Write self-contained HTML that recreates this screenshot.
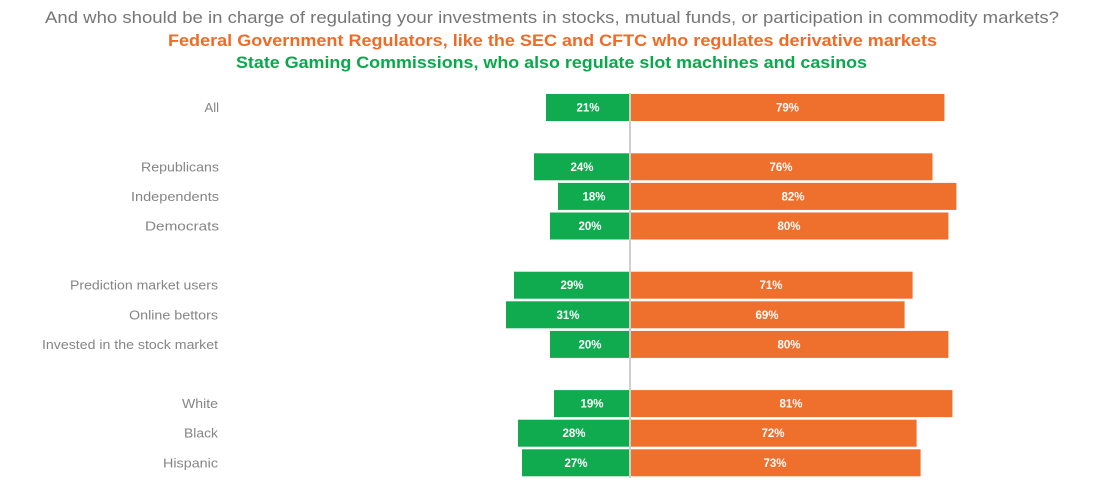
<!DOCTYPE html>
<html>
<head>
<meta charset="utf-8">
<style>
  html, body { margin: 0; padding: 0; background: #ffffff; }
  svg { display: block; }
  text { font-family: "Liberation Sans", Arial, sans-serif; }
  .lbl { fill: #858585; font-size: 13px; }
  .val { fill: #ffffff; font-size: 11.5px; font-weight: bold; }
</style>
</head>
<body>
<svg width="1104" height="493" viewBox="0 0 1104 493" xmlns="http://www.w3.org/2000/svg">
  <rect width="1104" height="493" fill="#ffffff"/>

  <!-- Titles -->
  <text x="45" y="23" font-size="17" fill="#767676" textLength="1014" lengthAdjust="spacingAndGlyphs">And who should be in charge of regulating your investments in stocks, mutual funds, or participation in commodity markets?</text>
  <text x="168" y="46" font-size="17" font-weight="bold" fill="#ee6c28" textLength="769" lengthAdjust="spacingAndGlyphs">Federal Government Regulators, like the SEC and CFTC who regulates derivative markets</text>
  <text x="236" y="68" font-size="17" font-weight="bold" fill="#0ba84b" textLength="631" lengthAdjust="spacingAndGlyphs">State Gaming Commissions, who also regulate slot machines and casinos</text>

  <!-- Bars -->
  <g>
    <rect x="546" y="94" width="83" height="27" fill="#10ab4e"/>
    <rect x="631" y="94" width="313.4" height="27" fill="#ef6f2c"/>
    <text class="val" x="588" y="111.6" text-anchor="middle">21%</text>
    <text class="val" x="787.5" y="111.6" text-anchor="middle">79%</text>

    <rect x="534" y="153.3" width="95" height="27" fill="#10ab4e"/>
    <rect x="631" y="153.3" width="301.5" height="27" fill="#ef6f2c"/>
    <text class="val" x="582" y="170.8" text-anchor="middle">24%</text>
    <text class="val" x="781" y="170.8" text-anchor="middle">76%</text>

    <rect x="558" y="182.9" width="71" height="27" fill="#10ab4e"/>
    <rect x="631" y="182.9" width="325.4" height="27" fill="#ef6f2c"/>
    <text class="val" x="594" y="200.4" text-anchor="middle">18%</text>
    <text class="val" x="793" y="200.4" text-anchor="middle">82%</text>

    <rect x="550" y="212.5" width="79" height="27" fill="#10ab4e"/>
    <rect x="631" y="212.5" width="317.4" height="27" fill="#ef6f2c"/>
    <text class="val" x="590" y="230" text-anchor="middle">20%</text>
    <text class="val" x="789" y="230" text-anchor="middle">80%</text>

    <rect x="514" y="271.7" width="115" height="27" fill="#10ab4e"/>
    <rect x="631" y="271.7" width="281.6" height="27" fill="#ef6f2c"/>
    <text class="val" x="572" y="289.2" text-anchor="middle">29%</text>
    <text class="val" x="771" y="289.2" text-anchor="middle">71%</text>

    <rect x="506" y="301.3" width="123" height="27" fill="#10ab4e"/>
    <rect x="631" y="301.3" width="273.6" height="27" fill="#ef6f2c"/>
    <text class="val" x="568" y="318.8" text-anchor="middle">31%</text>
    <text class="val" x="767" y="318.8" text-anchor="middle">69%</text>

    <rect x="550" y="330.9" width="79" height="27" fill="#10ab4e"/>
    <rect x="631" y="330.9" width="317.4" height="27" fill="#ef6f2c"/>
    <text class="val" x="590" y="348.4" text-anchor="middle">20%</text>
    <text class="val" x="789" y="348.4" text-anchor="middle">80%</text>

    <rect x="554" y="390.1" width="75" height="27" fill="#10ab4e"/>
    <rect x="631" y="390.1" width="321.4" height="27" fill="#ef6f2c"/>
    <text class="val" x="592" y="407.6" text-anchor="middle">19%</text>
    <text class="val" x="791" y="407.6" text-anchor="middle">81%</text>

    <rect x="518" y="419.7" width="111" height="27" fill="#10ab4e"/>
    <rect x="631" y="419.7" width="285.6" height="27" fill="#ef6f2c"/>
    <text class="val" x="574" y="437.2" text-anchor="middle">28%</text>
    <text class="val" x="773" y="437.2" text-anchor="middle">72%</text>

    <rect x="522" y="449.3" width="107" height="27" fill="#10ab4e"/>
    <rect x="631" y="449.3" width="289.6" height="27" fill="#ef6f2c"/>
    <text class="val" x="576" y="466.8" text-anchor="middle">27%</text>
    <text class="val" x="775" y="466.8" text-anchor="middle">73%</text>
  </g>

  <!-- center line -->
  <rect x="629" y="93" width="2" height="385" fill="#cfcfcf"/>

  <!-- Row labels -->
  <g>
    <text class="lbl" x="219" y="112" text-anchor="end">All</text>
    <text class="lbl" x="141" y="171.3" textLength="78" lengthAdjust="spacingAndGlyphs">Republicans</text>
    <text class="lbl" x="131" y="200.9" textLength="88" lengthAdjust="spacingAndGlyphs">Independents</text>
    <text class="lbl" x="145" y="230.5" textLength="74" lengthAdjust="spacingAndGlyphs">Democrats</text>
    <text class="lbl" x="70" y="289.7" textLength="148" lengthAdjust="spacingAndGlyphs">Prediction market users</text>
    <text class="lbl" x="129" y="319.3" textLength="89" lengthAdjust="spacingAndGlyphs">Online bettors</text>
    <text class="lbl" x="42" y="348.9" textLength="176" lengthAdjust="spacingAndGlyphs">Invested in the stock market</text>
    <text class="lbl" x="182" y="408.1" textLength="36" lengthAdjust="spacingAndGlyphs">White</text>
    <text class="lbl" x="184" y="437.7" textLength="34" lengthAdjust="spacingAndGlyphs">Black</text>
    <text class="lbl" x="163" y="467.3" textLength="55" lengthAdjust="spacingAndGlyphs">Hispanic</text>
  </g>
</svg>
</body>
</html>
